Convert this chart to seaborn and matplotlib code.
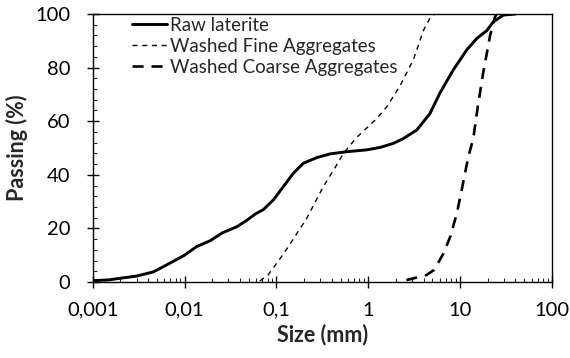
import numpy as np
import pandas as pd
import matplotlib
matplotlib.use("Agg")
import matplotlib.pyplot as plt
import seaborn as sns
from matplotlib.ticker import FixedLocator, LogLocator, NullFormatter, MultipleLocator

sns.set_style("ticks")
plt.rcParams['font.family'] = ['Lato', 'DejaVu Sans']

# Data
raw_size = [0.001, 0.0015, 0.002, 0.003, 0.0046, 0.0069, 0.01, 0.0135, 0.019, 0.026, 0.037,
            0.0475, 0.059, 0.072, 0.0925, 0.119, 0.153, 0.196, 0.275, 0.384, 0.58, 0.96,
            1.34, 1.87, 2.4, 3.37, 4.7, 6.0, 8.4, 11.8, 15.2, 19.5, 23, 29.6, 40]
raw_pass = [0.5, 0.8, 1.4, 2.2, 3.8, 7.0, 10.0, 13.2, 15.4, 18.4, 20.6,
            23.0, 25.4, 27.0, 30.6, 35.6, 40.6, 44.3, 46.4, 47.8, 48.6, 49.3,
            50.2, 51.7, 53.5, 56.7, 62.9, 70.4, 79.1, 86.6, 90.9, 93.8, 97.1, 99.6, 100.0]

fine_size = [0.066, 0.081, 0.11, 0.135, 0.214, 0.324, 0.42, 0.537, 0.75, 1.24, 1.6, 2.2,
             3.1, 4.0, 4.7, 5.3]
fine_pass = [0.4, 2.6, 8.8, 13.2, 23.8, 35.6, 41.8, 48.0, 54.0, 61.0, 65.5, 73.0,
             83.0, 94.0, 98.5, 100.0]

coarse_size = [2.6, 4.3, 5.2, 6.6, 7.8, 9.2, 10.4, 11.3, 12.3, 13.9, 15.5, 17.8, 21.2, 24.0, 25.0]
coarse_pass = [0.7, 2.6, 4.5, 10.7, 16.9, 25.6, 34.3, 40.6, 46.8, 53.5, 65.0, 78.0, 92.0, 99.0, 100.0]

series_names = ["Raw laterite", "Washed Fine Aggregates", "Washed Coarse Aggregates"]
x_ticks = [0.001, 0.01, 0.1, 1, 10, 100]
x_ticklabels = ["0,001", "0,01", "0,1", "1", "10", "100"]
y_ticks = [0, 20, 40, 60, 80, 100]

W, H = 570, 358
fig = plt.figure(figsize=(W / 100, H / 100), dpi=100)
ax = fig.add_axes([92.7 / W, 1 - 282 / H, (552 - 92.7) / W, (282 - 14) / H])

sns.lineplot(x=raw_size, y=raw_pass, ax=ax, color="black", lw=2.1, sort=False,
             estimator=None, label=series_names[0])
sns.lineplot(x=fine_size, y=fine_pass, ax=ax, color="black", lw=1.0, sort=False,
             estimator=None, label=series_names[1])
sns.lineplot(x=coarse_size, y=coarse_pass, ax=ax, color="black", lw=1.9, sort=False,
             estimator=None, label=series_names[2])
lines = ax.get_lines()
lines[1].set_dashes([3.6, 3.4])
lines[2].set_dashes([4.2, 3.0])

ax.set_xscale("log")
ax.set_xlim(0.001, 100)
ax.set_ylim(0, 100)
ax.xaxis.set_major_locator(FixedLocator(x_ticks))
ax.set_xticklabels(x_ticklabels)
ax.xaxis.set_minor_locator(LogLocator(base=10, subs=np.arange(2, 10)))
ax.xaxis.set_minor_formatter(NullFormatter())
ax.yaxis.set_major_locator(FixedLocator(y_ticks))
ax.yaxis.set_minor_locator(MultipleLocator(4))

ax.tick_params(axis="both", which="major", direction="inout", length=8.5, width=1,
               labelsize=14.5, colors="black")
ax.tick_params(axis="x", which="major", pad=10)
ax.tick_params(axis="y", which="major", pad=12)
ax.tick_params(axis="both", which="minor", direction="in", length=3, width=0.8)
for s in ax.spines.values():
    s.set_color("black")
    s.set_linewidth(1)

ax.set_xlabel("Size (mm)", fontsize=15.5, fontweight="bold", labelpad=3.5)
ax.set_ylabel("Passing (%)", fontsize=15.5, fontweight="bold", labelpad=5)

leg = ax.legend(loc="upper left", bbox_to_anchor=(132 / W, 1 - 17 / H),
                bbox_transform=fig.transFigure, frameon=False, borderpad=0,
                borderaxespad=0, fontsize=13.5, handlelength=1.85,
                handletextpad=0.2, labelspacing=0.2)

fig.savefig("out.png", dpi=100)
